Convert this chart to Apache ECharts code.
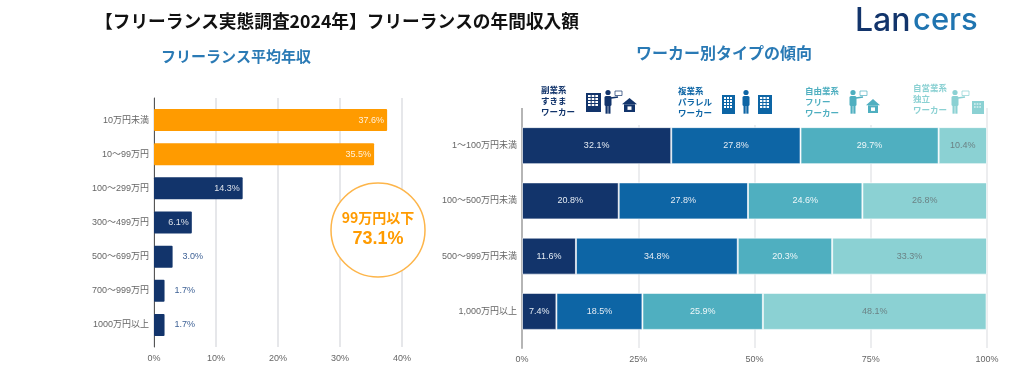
<!DOCTYPE html>
<html>
<head>
<meta charset="utf-8">
<style>
  html, body { margin: 0; padding: 0; background: #fff; }
  #main { width: 1024px; height: 378px; }
</style>
<script src="https://cdn.jsdelivr.net/npm/echarts@6/dist/echarts.min.js"></script>
</head>
<body>
<div id="main"></div>
<script>
const incomeLabels = ['10万円未満', '10～99万円', '100～299万円', '300～499万円', '500～699万円', '700～999万円', '1000万円以上']
const incomeValues = [37.6, 35.5, 14.3, 6.1, 3.0, 1.7, 1.7]

const workerLabels = ['1～100万円未満', '100～500万円未満', '500～999万円未満', '1,000万円以上']
const sideJob = [32.1, 20.8, 11.6, 7.4]
const parallel = [27.8, 27.8, 34.8, 18.5]
const freeWorker = [29.7, 24.6, 20.3, 25.9]
const independent = [10.4, 26.8, 33.3, 48.1]

const FONT = '"Liberation Sans", "Noto Sans CJK JP", sans-serif'
const NAVY = '#12346b'
const BLUE = '#0d65a5'
const TEAL = '#4fafc0'
const PALE = '#8bd1d3'
const ORANGE = '#ff9b00'

function frameAxes (gridIndex, max, interval, lineColor, lineWidth, splitWidth) {
  return {
    x: {
      type: 'value',
      gridIndex,
      min: 0,
      max,
      interval,
      axisLine: { show: false },
      axisTick: { show: false },
      axisLabel: { color: '#666', fontSize: 9, fontFamily: FONT, margin: 7, formatter: '{value}%' },
      splitLine: { lineStyle: { color: '#e6e7ea', width: splitWidth } }
    },
    y: {
      type: 'value',
      gridIndex,
      min: 0,
      max: 1,
      axisLine: { show: true, lineStyle: { color: lineColor, width: lineWidth } },
      axisTick: { show: false },
      axisLabel: { show: false },
      splitLine: { show: false }
    }
  }
}

function barAxes (gridIndex, max, labels) {
  return {
    x: { type: 'value', gridIndex, min: 0, max, show: false },
    y: {
      type: 'category',
      gridIndex,
      inverse: true,
      data: labels,
      axisLine: { show: false },
      axisTick: { show: false },
      axisLabel: { color: '#666', fontSize: 9, fontFamily: FONT, margin: 5 }
    }
  }
}

function stackSeries (name, values, color, labelColor) {
  return {
    name,
    type: 'bar',
    stack: 'worker',
    xAxisIndex: 2,
    yAxisIndex: 2,
    barWidth: 37,
    data: values,
    itemStyle: { color, borderColor: 'rgba(255,255,255,0.6)', borderWidth: 1 },
    label: {
      show: true,
      position: 'inside',
      color: labelColor,
      fontSize: 9,
      fontFamily: FONT,
      formatter: p => p.value.toFixed(1) + '%'
    }
  }
}

// small pictograms above the stacked chart
function building (x, y, w, h, color) {
  const els = [{ type: 'rect', shape: { x, y, width: w, height: h }, style: { fill: color } }]
  for (let r = 0; r < 4; r++) {
    for (let c = 0; c < 3; c++) {
      els.push({
        type: 'rect',
        shape: { x: x + 2 + c * (w - 4) / 3, y: y + 2 + r * (h - 7) / 4, width: (w - 4) / 3 - 1, height: (h - 7) / 4 - 1 },
        style: { fill: '#fff' }
      })
    }
  }
  return els
}

function person (x, y, h, color, laptop) {
  const els = [
    { type: 'circle', shape: { cx: x, cy: y + 2.5, r: 2.6 }, style: { fill: color } },
    { type: 'rect', shape: { x: x - 3.5, y: y + 6, width: 7, height: h * 0.42, r: 1.5 }, style: { fill: color } },
    { type: 'rect', shape: { x: x - 2.5, y: y + 6 + h * 0.4, width: 2.2, height: h * 0.42 - 2 }, style: { fill: color } },
    { type: 'rect', shape: { x: x + 0.3, y: y + 6 + h * 0.4, width: 2.2, height: h * 0.42 - 2 }, style: { fill: color } }
  ]
  if (laptop) {
    els.push({ type: 'line', shape: { x1: x + 3, y1: y + 8, x2: x + 10, y2: y + 7 }, style: { stroke: color, lineWidth: 1.6 } })
    els.push({ type: 'rect', shape: { x: x + 7, y: y + 1, width: 7, height: 4.5 }, style: { fill: '#fff', stroke: color, lineWidth: 0.7 } })
  }
  return els
}

function house (x, y, w, h, color) {
  return [
    { type: 'polygon', shape: { points: [[x, y + h * 0.45], [x + w / 2, y], [x + w, y + h * 0.45]] }, style: { fill: color } },
    { type: 'rect', shape: { x: x + 2, y: y + h * 0.45, width: w - 4, height: h * 0.55 }, style: { fill: color } },
    { type: 'rect', shape: { x: x + w / 2 - 2, y: y + h * 0.6, width: 4, height: h * 0.25 }, style: { fill: '#fff' } }
  ]
}

function workerHead (x, y, lines, color) {
  return {
    type: 'text',
    x,
    y,
    style: { text: lines, fill: color, font: 'bold 8.5px "Noto Sans CJK JP"', lineHeight: 11 }
  }
}

function plainText (text, x, y, font, fill, align) {
  return {
    type: 'text',
    x,
    y,
    style: { text, font, fill, align: align || 'center', verticalAlign: 'middle' }
  }
}

const headerIcons = [].concat(
  building(586, 93, 15, 19, NAVY), person(608, 90, 24, NAVY, true), house(622, 98, 15, 14, NAVY),
  building(722, 95, 13, 19, BLUE), person(746, 90, 24, BLUE, false), building(758, 95, 14, 19, BLUE),
  person(853, 90, 24, TEAL, true), house(866, 99, 14, 14, TEAL),
  person(955, 90, 24, PALE, true), building(972, 101, 12, 13, PALE)
)

const graphicEls = [
  plainText('【フリーランス実態調査2024年】フリーランスの年間収入額', 337, 21, 'bold 17.7px "Noto Sans CJK JP"', '#111'),
  plainText('フリーランス平均年収', 236, 56, 'bold 15px "Noto Sans CJK JP"', '#2a7ab5'),
  plainText('ワーカー別タイプの傾向', 724, 53, 'bold 16px "Noto Sans CJK JP"', '#2a7ab5'),
  plainText('Lan', 855, 21, '500 32px Inter', NAVY, 'left'),
  plainText('cers', 913, 21, '500 31px Inter', '#1f74b0', 'left'),
  { type: 'line', shape: { x1: 522, y1: 108, x2: 522, y2: 125 }, style: { stroke: '#b5b5b5', lineWidth: 2 } },
  { type: 'line', shape: { x1: 987, y1: 108, x2: 987, y2: 125 }, style: { stroke: '#e6e7ea', lineWidth: 1.5 } },
  workerHead(541, 84, '副業系\nすきま\nワーカー', NAVY),
  workerHead(678, 85, '複業系\nパラレル\nワーカー', BLUE),
  workerHead(805, 85, '自由業系\nフリー\nワーカー', TEAL),
  workerHead(913, 82, '自営業系\n独立\nワーカー', PALE),
  {
    type: 'circle',
    z: 10,
    shape: { cx: 378, cy: 230, r: 47 },
    style: { fill: '#fff', stroke: '#fdb54a', lineWidth: 1.5 }
  },
  Object.assign(plainText('99万円以下', 378, 218, 'bold 14px "Noto Sans CJK JP"', ORANGE), { z: 11 }),
  Object.assign(plainText('73.1%', 378, 239, 'bold 18px "Liberation Sans"', ORANGE), { z: 11 })
].concat(headerIcons)

const lb = barAxes(0, 40, incomeLabels)
const lf = frameAxes(1, 40, 10, '#555', 1, 2)
const rb = barAxes(2, 100, workerLabels)
const rf = frameAxes(3, 100, 25, '#b5b5b5', 2, 1.5)

const option = {
  backgroundColor: '#fff',
  animation: false,
  grid: [
    { left: 154, width: 248, top: 103, height: 239 },
    { left: 154, width: 248, top: 98, height: 249 },
    { left: 522, width: 465, top: 118, height: 221 },
    { left: 522, width: 465, top: 125, height: 223 }
  ],
  xAxis: [lb.x, lf.x, rb.x, rf.x],
  yAxis: [lb.y, lf.y, rb.y, rf.y],
  series: [
    {
      name: 'フリーランス平均年収',
      type: 'bar',
      xAxisIndex: 0,
      yAxisIndex: 0,
      barWidth: 22,
      data: incomeValues.map((v, i) => ({
        value: v,
        itemStyle: { color: i < 2 ? ORANGE : NAVY, borderRadius: 1 },
        label: v < 5
          ? { position: 'right', distance: 10, color: '#3f6296' }
          : { position: 'insideRight', distance: 3, color: '#fff', opacity: 0.85 }
      })),
      label: {
        show: true,
        fontSize: 9,
        fontFamily: FONT,
        formatter: p => p.value.toFixed(1) + '%'
      }
    },
    stackSeries('副業系すきまワーカー', sideJob, NAVY, '#e4ebf3'),
    stackSeries('複業系パラレルワーカー', parallel, BLUE, '#e4ebf3'),
    stackSeries('自由業系フリーワーカー', freeWorker, TEAL, '#eef7f9'),
    stackSeries('自営業系独立ワーカー', independent, PALE, '#6b8285')
  ],
  graphic: graphicEls
}

const myChart = echarts.init(document.getElementById('main'), null, { renderer: 'canvas' })
myChart.setOption(option)
window.addEventListener('resize', function () {
  myChart.resize()
})
</script>
</body>
</html>
